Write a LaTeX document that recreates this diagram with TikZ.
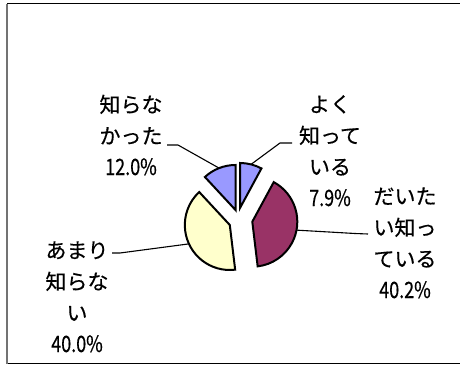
\documentclass[tikz,border=0pt]{standalone}
\usepackage{fontspec}
\usetikzlibrary{calc}
\setmainfont{Noto Sans CJK JP}[FakeBold=0.4]
\newfontfamily\numfont[FakeStretch=0.8,FakeBold=0.4]{Noto Sans CJK JP}
\definecolor{sliceblue}{HTML}{9999FF}
\definecolor{slicemaroon}{HTML}{993366}
\definecolor{sliceyellow}{HTML}{FFFFCC}
\newcommand{\pcttext}[1]{{\fontsize{22.5}{31.3}\numfont #1}}
\begin{document}
\begin{tikzpicture}[x=1pt,y=1pt,
  slice/.style={draw=black,line width=2pt,line join=miter},
  leader/.style={draw=black,line width=1.1pt},
  lbl/.style={align=center,anchor=base,inner sep=0pt,font=\fontsize{21}{31.3}\selectfont}]
\useasboundingbox (0,0) rectangle (460,365);
% frame
\draw[black,line width=1pt] (7,361) -- (460,361);
\draw[black,line width=1pt] (7,1.5) -- (460,1.5);
\draw[black!55,line width=1.4pt] (7,361) -- (7,1.5);
% slices
\coordinate (aA) at (240,157);
\coordinate (aB) at (252.3,143.3);
\coordinate (aC) at (229.8,140);
\coordinate (aD) at (235.5,155);
\draw[slice,fill=sliceblue] (aA) -- ++(90:45) arc[start angle=90,end angle=61.56,radius=45] -- cycle;
\draw[slice,fill=slicemaroon] (aB) -- ++(61.56:45) arc[start angle=61.56,end angle=-83.16,radius=45] -- cycle;
\draw[slice,fill=sliceyellow] (aC) -- ++(-83.16:45) arc[start angle=-83.16,end angle=-227.16,radius=45] -- cycle;
\draw[slice,fill=sliceblue] (aD) -- ++(-227.16:45) arc[start angle=-227.16,end angle=-270,radius=45] -- cycle;
\coordinate (mA) at ($(aA)+(75.8:45)$);
\coordinate (mB) at ($(aB)+(-10.8:45)$);
\coordinate (mC) at ($(aC)+(-155.2:45)$);
\coordinate (mD) at ($(aD)+(111.4:45)$);
% labels (anchor = baseline of the last line)
\node[lbl] (lA) at (330,159) {よく\\知って\\いる\\\pcttext{7.9\%}};
\node[lbl] (lB) at (405,67) {だいた\\い知っ\\ている\\\pcttext{40.2\%}};
\node[lbl] (lC) at (77,13) {あまり\\知らな\\い\\\pcttext{40.0\%}};
\node[lbl] (lD) at (131,190) {知らな\\かった\\\pcttext{12.0\%}};
% leaders
\coordinate (kA1) at (292,222);
\coordinate (kA2) at (280,222);
\coordinate (kB1) at (355,131.5);
\coordinate (kB2) at (368,131);
\coordinate (kC1) at (120,112);
\coordinate (kC2) at (112,112);
\coordinate (kD1) at (178,220);
\coordinate (kD2) at (167,220);
\draw[leader] (mA) -- (kA2) -- (kA1);
\draw[leader] (mB) -- (kB1) -- (kB2);
\draw[leader] (mC) -- (kC1) -- (kC2);
\draw[leader] (mD) -- (kD1) -- (kD2);
\end{tikzpicture}
\end{document}
